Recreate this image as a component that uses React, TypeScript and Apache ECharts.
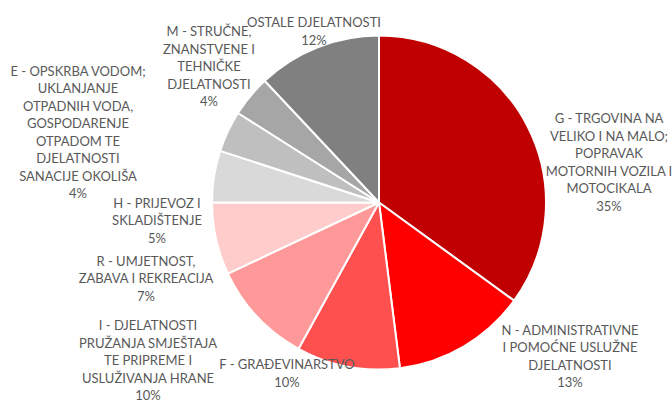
import React, { useEffect, useRef } from "react";
import * as echarts from "echarts";

const categories = [
  "G - TRGOVINA NA\nVELIKO I NA MALO;\nPOPRAVAK\nMOTORNIH VOZILA I\nMOTOCIKALA",
  "N - ADMINISTRATIVNE\nI POMOĆNE USLUŽNE\nDJELATNOSTI",
  "F - GRAĐEVINARSTVO",
  "I - DJELATNOSTI\nPRUŽANJA SMJEŠTAJA\nTE PRIPREME I\nUSLUŽIVANJA HRANE",
  "R - UMJETNOST,\nZABAVA I REKREACIJA",
  "H - PRIJEVOZ I\nSKLADIŠTENJE",
  "E - OPSKRBA VODOM;\nUKLANJANJE\nOTPADNIH VODA,\nGOSPODARENJE\nOTPADOM TE\nDJELATNOSTI\nSANACIJE OKOLIŠA",
  "M - STRUČNE,\nZNANSTVENE I\nTEHNIČKE\nDJELATNOSTI",
  "OSTALE DJELATNOSTI",
];
const values = [35, 13, 10, 10, 7, 5, 4, 4, 12];
const colors = ["#C00000", "#FF0000", "#FF5050", "#FF9999", "#FFCCCC", "#D9D9D9", "#BFBFBF", "#A6A6A6", "#808080"];
// label block centres (px)
const labelPos: [number, number][] = [
  [609, 162],
  [570, 356],
  [287, 373],
  [148, 360],
  [146, 278],
  [157, 220],
  [78, 132],
  [209, 66],
  [314, 31],
];

export default function App() {
  const ref = useRef<HTMLDivElement>(null);
  useEffect(() => {
    if (!ref.current) return;
    const chart = echarts.init(ref.current, undefined, { renderer: "svg" });
    chart.setOption({
      animation: false,
      backgroundColor: "#ffffff",
      series: [
        {
          type: "pie",
          center: [379, 202.5],
          radius: 167,
          startAngle: 90,
          clockwise: true,
          data: categories.map((name, i) => ({
            name,
            value: values[i],
            itemStyle: { color: colors[i] },
          })),
          itemStyle: { borderColor: "#ffffff", borderWidth: 2 },
          label: {
            show: true,
            position: "outside",
            alignTo: "none",
            overflow: "none",
            formatter: (p: any) => `${p.name}\n${p.value}%`,
            color: "#595959",
            fontFamily: "Lato",
            fontSize: 13,
            lineHeight: 17.5,
            align: "center",
          },
          labelLine: { show: false },
          labelLayout: (p: any) => ({
            x: labelPos[p.dataIndex][0],
            y: labelPos[p.dataIndex][1],
            align: "center",
            verticalAlign: "middle",
            width: 300,
          }),
          emphasis: { disabled: true },
        },
      ],
    });
    return () => chart.dispose();
  }, []);
  return (
    <div
      ref={ref}
      style={{ position: "fixed", left: 0, top: 0, width: 672, height: 401 }}
    />
  );
}
